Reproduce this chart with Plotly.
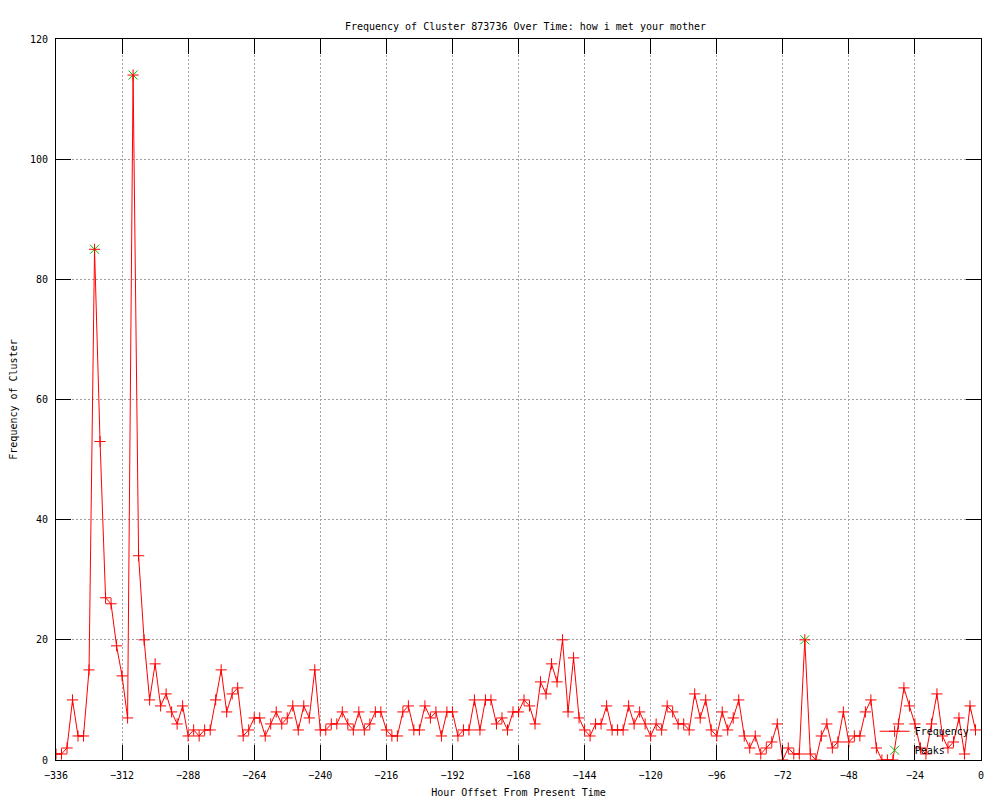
import plotly.graph_objects as go

# Hour offsets (every 2 hours from -336 to -2)
hours = list(range(-336, 0, 2))

frequency = [
    1, 1, 2, 10, 4, 4, 15, 85, 53, 27, 26, 19, 14, 7, 114, 34, 20, 10, 16, 9,
    11, 8, 6, 9, 4, 5, 4, 5, 5, 10, 15, 8, 11, 12, 4, 5, 7, 7, 4, 6,
    8, 6, 7, 9, 5, 9, 7, 15, 5, 5, 6, 6, 8, 6, 5, 8, 5, 6, 8, 8,
    5, 4, 4, 8, 9, 5, 5, 9, 7, 8, 4, 8, 8, 4, 5, 5, 10, 5, 10, 10,
    6, 7, 5, 8, 8, 10, 9, 6, 13, 11, 16, 13, 20, 8, 17, 7, 5, 4, 6, 6,
    9, 5, 5, 5, 9, 6, 8, 6, 4, 6, 5, 9, 8, 6, 6, 5, 11, 7, 10, 5,
    4, 8, 5, 7, 10, 4, 2, 4, 1, 2, 3, 6, 0, 2, 1, 1, 20, 1, 0, 4,
    6, 2, 3, 8, 3, 4, 4, 8, 10, 2, 0, 0, 0, 6, 12, 9, 6, 2, 1, 6,
    11, 4, 2, 3, 7, 1, 9, 5,
]

peak_hours = [-322, -308, -64]
peak_values = [85, 114, 20]

x_ticks = list(range(-336, 1, 24))
y_ticks = list(range(0, 121, 20))

FONT = "DejaVu Sans Mono"

fig = go.Figure()

fig.add_trace(go.Scatter(
    x=peak_hours, y=peak_values, mode="markers", name="Peaks",
    legendrank=2,
    marker=dict(symbol="x-thin", size=9, color="#00c000",
                line=dict(color="#00c000", width=1)),
))

fig.add_trace(go.Scatter(
    x=hours, y=frequency, mode="lines+markers", name="Frequency",
    legendrank=1,
    line=dict(color="#ff0000", width=1),
    marker=dict(symbol="cross-thin", size=8, color="#ff0000",
                line=dict(color="#ff0000", width=1)),
))

axis_common = dict(
    showline=True, linecolor="black", linewidth=1, mirror="ticks",
    ticks="inside", ticklen=15, tickcolor="black", tickwidth=1,
    showgrid=True, gridcolor="#a0a0a0", griddash="2px,2px", gridwidth=1,
    zeroline=False, automargin=False,
    tickfont=dict(family=FONT, size=10, color="black"),
)

fig.update_layout(
    width=1000, height=800,
    paper_bgcolor="white", plot_bgcolor="white",
    margin=dict(l=48, r=27, t=31, b=48),
    font=dict(family=FONT, size=10, color="black"),
    title=dict(text="Frequency of Cluster 873736 Over Time: how i met your mother",
               x=0.5175, xanchor="center", y=0.9775, yanchor="middle",
               font=dict(family=FONT, size=10, color="black")),
    xaxis=dict(range=[-336, 0], tickvals=x_ticks, ticklabelstandoff=6,
               title=dict(text="Hour Offset From Present Time", standoff=8,
                          font=dict(family=FONT, size=10)),
               **axis_common),
    yaxis=dict(range=[0, 120], tickvals=y_ticks, ticklabelstandoff=5,
               title=dict(text="Frequency of Cluster", standoff=10,
                          font=dict(family=FONT, size=10)),
               **axis_common),
    showlegend=True,
    legend=dict(x=0.885, y=0.06, xanchor="left", yanchor="top",
                bgcolor="rgba(0,0,0,0)", borderwidth=0,
                font=dict(family=FONT, size=10, color="black"),
                itemwidth=30, tracegroupgap=0),
)

fig.write_html("out.html")
